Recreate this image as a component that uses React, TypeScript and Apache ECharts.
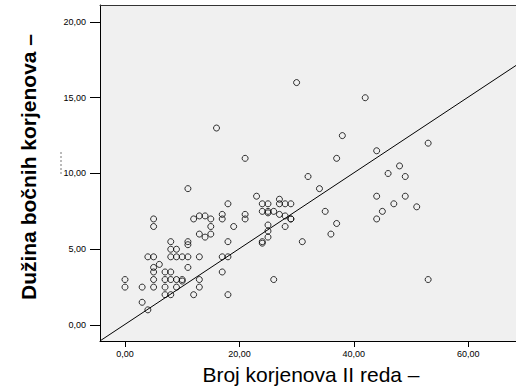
import React, { useEffect, useRef } from "react";
import * as echarts from "echarts";

// Broj korjenova II reda (x) and Dužina bočnih korjenova (y)
const rootCount = [
  0, 0, 3, 3, 4, 4, 5, 5, 5, 5, 5, 5, 5, 6, 7, 7, 7, 7, 8, 8,
  8, 8, 8, 8, 9, 9, 9, 9, 10, 10, 10, 11, 11, 11, 11, 11, 12, 12, 13, 13,
  13, 13, 13, 14, 14, 15, 15, 15, 16, 17, 17, 17, 17, 18, 18, 18, 18, 19, 21, 21,
  21, 23, 24, 24, 24, 24, 25, 25, 25, 25, 25, 25, 26, 26, 27, 27, 27, 28, 28, 28,
  29, 29, 29, 30, 31, 32, 34, 35, 36, 37, 37, 38, 42, 44, 44, 44, 45, 46, 47, 48,
  49, 49, 51, 53, 53,
];
const lateralLength = [
  3.0, 2.5, 2.5, 1.5, 1.0, 4.5, 7.0, 6.5, 4.5, 3.8, 3.5, 3.0, 2.5, 4.0, 3.5, 3.0, 2.5, 2.0, 5.5, 5.0,
  4.5, 3.5, 3.0, 2.0, 5.0, 4.5, 3.0, 2.5, 4.5, 3.0, 2.9, 9.0, 5.5, 5.3, 4.5, 3.8, 7.0, 2.0, 7.2, 6.0,
  4.5, 3.0, 2.5, 7.2, 5.8, 7.0, 6.5, 6.0, 13.0, 7.3, 7.0, 4.5, 3.5, 8.0, 5.5, 4.5, 2.0, 6.5, 11.0, 7.3,
  7.0, 8.5, 8.0, 7.5, 5.5, 5.4, 8.0, 7.5, 7.4, 6.6, 6.2, 5.8, 7.5, 3.0, 8.3, 8.0, 7.3, 8.0, 7.2, 6.5,
  8.0, 7.0, 7.0, 16.0, 5.5, 9.8, 9.0, 7.5, 6.0, 11.0, 6.7, 12.5, 15.0, 11.5, 8.5, 7.0, 7.5, 10.0, 8.0, 10.5,
  9.8, 8.5, 7.8, 12.0, 3.0,
];

// Fit line end points
const fitX = [-4.37, 68.36];
const fitY = [-1.05, 17.13];

const xTicks = [0, 20, 40, 60];
const yTicks = [0, 5, 10, 15, 20];

const xTitle = "Broj korjenova II reda –";
const yTitle = "Dužina bočnih korjenova –";

export default function App() {
  const ref = useRef<HTMLDivElement>(null);
  useEffect(() => {
    document.body.style.margin = "0";
    const chart = echarts.init(ref.current!, null, { renderer: "svg" });
    const fmt = (v: number) => v.toFixed(2).replace(".", ",");
    const font = "'Liberation Sans', Arial, sans-serif";
    const pts = rootCount.map((x, i) => [x, lateralLength[i]]);
    const fit = fitX.map((x, i) => [x, fitY[i]]);
    chart.setOption({
      animation: false,
      textStyle: { fontFamily: font },
      grid: {
        left: 100,
        top: 5,
        right: 0,
        bottom: 48,
        show: true,
        backgroundColor: "#f0f0f0",
        borderWidth: 0,
      },
      xAxis: [
        {
          type: "value",
          min: -4.37,
          max: 68.36,
          splitLine: { show: false },
          axisLine: { onZero: false, lineStyle: { color: "#000", width: 1 } },
          axisTick: { customValues: xTicks, length: 6, lineStyle: { color: "#000" } },
          axisLabel: {
            customValues: xTicks,
            formatter: fmt,
            fontSize: 9,
            color: "#000",
            margin: 8,
            fontFamily: font,
          },
        },
        {
          type: "value",
          position: "top",
          min: -4.37,
          max: 68.36,
          splitLine: { show: false },
          axisLine: { onZero: false, lineStyle: { color: "#333", width: 1 } },
          axisTick: { show: false },
          axisLabel: { show: false },
        },
      ],
      yAxis: {
        type: "value",
        min: -1.056,
        max: 21.12,
        splitLine: { show: false },
        axisLine: { onZero: false, lineStyle: { color: "#000", width: 1 } },
        axisTick: { customValues: yTicks, length: 10, lineStyle: { color: "#000" } },
        axisLabel: {
          customValues: yTicks,
          formatter: fmt,
          fontSize: 9,
          color: "#000",
          margin: 14,
          fontFamily: font,
        },
      },
      series: [
        {
          type: "scatter",
          data: pts,
          symbol: "circle",
          symbolSize: 6,
          itemStyle: { color: "rgba(0,0,0,0)", borderColor: "#000", borderWidth: 1 },
          z: 3,
        },
        {
          type: "line",
          data: fit,
          symbol: "none",
          lineStyle: { color: "#000", width: 1 },
          z: 2,
        },
      ],
      graphic: [
        {
          type: "text",
          x: 311,
          y: 374,
          style: {
            text: xTitle,
            font: `21px ${font}`,
            fill: "#000",
            align: "center",
            verticalAlign: "middle",
          },
        },
        {
          type: "text",
          x: 28,
          y: 167,
          rotation: Math.PI / 2,
          style: {
            text: yTitle,
            font: `bold 21px ${font}`,
            fill: "#000",
            align: "center",
            verticalAlign: "middle",
          },
        },
        {
          type: "line",
          shape: { x1: 61, y1: 152, x2: 61, y2: 174 },
          style: { stroke: "#777", lineWidth: 1, lineDash: [2, 2] },
        },
      ],
    });
    return () => chart.dispose();
  }, []);
  return <div ref={ref} style={{ width: 516, height: 389 }} />;
}
